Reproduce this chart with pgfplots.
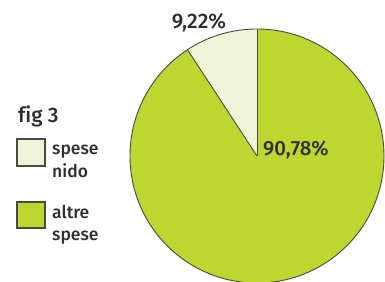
\documentclass[border=0pt]{standalone}
\usepackage{pgfplots}
\pgfplotsset{compat=1.18}
\usepackage{pgfplotstable}
\usepackage{fontspec}
\setmainfont{Fira Sans}[UprightFont=* Medium, Ligatures=NoCommon]
\definecolor{pgreen}{HTML}{BDD630}
\definecolor{plight}{HTML}{F0F4D8}
\definecolor{pedge}{HTML}{4A4A42}
\definecolor{ptext}{HTML}{2E2E2E}
\pgfplotstableread{
label value
nido 9.22
altre 90.78
}\piedata
\begin{document}
\begin{tikzpicture}
\clip (0,0) rectangle (385pt,281pt);
\pgfplotstablegetelem{0}{value}\of\piedata \let\vnido\pgfplotsretval
\pgfplotstablegetelem{1}{value}\of\piedata \let\valtre\pgfplotsretval
\pgfmathsetmacro{\angnido}{90+3.6*\vnido}
\pgfmathsetmacro{\angaltre}{\angnido+3.6*\valtre}
\begin{axis}[
  at={(0,0)}, anchor=origin,
  x=1pt, y=1pt,
  xmin=0, xmax=385, ymin=0, ymax=281,
  hide axis, scale only axis, clip=false,
]
% pie sectors
\fill[plight] (axis cs:257,125) -- ++(90:127pt) arc[start angle=90, end angle=\angnido, radius=127pt] -- cycle;
\fill[pgreen] (axis cs:257,125) -- ++(\angnido:127pt) arc[start angle=\angnido, end angle=\angaltre, radius=127pt] -- cycle;
\draw[pedge, line width=0.9pt] (axis cs:257,125) circle[radius=127pt];
\draw[pedge, line width=0.9pt] (axis cs:257,125) -- ++(90:127pt);
\draw[pedge, line width=0.9pt] (axis cs:257,125) -- ++(\angnido:127pt);
% labels
\node[anchor=base, inner sep=0, text=ptext, font=\fontsize{21}{24}\selectfont] at (axis cs:199,252) {9,22\%};
\node[anchor=base west, inner sep=0, text=ptext, font=\fontsize{20.5}{24}\selectfont] at (axis cs:263,125) {90,78\%};
% legend
\node[anchor=base west, inner sep=0, text=ptext, font=\fontsize{21}{26}\selectfont] at (axis cs:18,158) {fig 3};
\draw[pedge, line width=1.2pt, fill=plight] (axis cs:17,115) rectangle (axis cs:45,142);
\node[anchor=base west, inner sep=0, text=ptext, font=\fontsize{17.5}{20}\selectfont] at (axis cs:52,126) {spese};
\node[anchor=base west, inner sep=0, text=ptext, font=\fontsize{17.5}{20}\selectfont] at (axis cs:52,103) {nido};
\draw[pedge, line width=1.2pt, fill=pgreen] (axis cs:17,53) rectangle (axis cs:45,79);
\node[anchor=base west, inner sep=0, text=ptext, font=\fontsize{17.5}{20}\selectfont] at (axis cs:52,63) {altre};
\node[anchor=base west, inner sep=0, text=ptext, font=\fontsize{17.5}{20}\selectfont] at (axis cs:52,41) {spese};
\end{axis}
\end{tikzpicture}
\end{document}
